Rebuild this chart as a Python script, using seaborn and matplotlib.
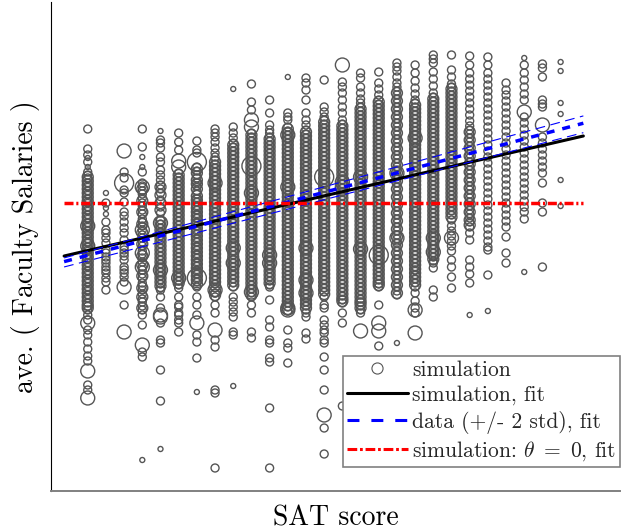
import matplotlib
matplotlib.use("Agg")
import matplotlib.pyplot as plt
import seaborn as sns
import pandas as pd
from matplotlib.lines import Line2D

# SAT score of each column of simulated schools
sat_scores = [820, 840, 860, 880, 900, 920, 940, 960, 980, 1000, 1020, 1040, 1060, 1080,
              1100, 1120, 1140, 1160, 1180, 1200, 1220, 1240, 1260, 1280, 1300, 1320, 1340]

# simulated average faculty salaries (arbitrary units), one list per SAT column,
# split by the weight of the simulated school (circle size)
salary_small = [
    [333, 324], [298, 283, 277], [], [334, 324, 31], [360, 42], [], [99], [], [402, 105],
    [], [], [414], [], [], [], [], [], [148], [], [], [], [176], [180], [], [433, 219], [],
    [429, 420, 388, 377, 311, 285],
]
salary_mid = [
    [362, 342, 336, 329, 319, 316, 313, 308, 305, 300, 297, 292, 289, 284, 281, 276, 273, 268,
     265, 260, 257, 252, 249, 244, 241, 236, 233, 228, 225, 220, 217, 212, 209, 204, 201, 196,
     193, 188, 185, 181, 176, 171, 161, 156, 149, 142, 135, 130, 106, 101],
    [288, 269, 261, 258, 253, 248, 241, 238, 234, 231, 228, 224, 221, 218, 213, 209, 201],
    [319, 313, 301, 298, 289, 279, 275, 269, 263, 258, 251, 244, 241, 238, 235, 231, 224, 221,
     218, 214, 209, 186],
    [362, 344, 319, 308, 305, 300, 297, 293, 288, 285, 281, 277, 272, 269, 265, 261, 256, 253,
     249, 245, 240, 237, 233, 229, 224, 221, 217, 213, 208, 205, 201, 197, 192, 189, 185, 181,
     176, 166, 139, 134],
    [351, 348, 343, 334, 329, 321, 316, 311, 306, 302, 298, 291, 284, 278, 271, 267, 263, 259,
     255, 251, 247, 243, 239, 235, 231, 227, 223, 219, 215, 211, 207, 203, 201, 194, 183, 168,
     151, 148, 121, 90],
    [358, 349, 341, 318, 314, 310, 306, 302, 298, 294, 290, 286, 282, 278, 274, 270, 266, 262,
     258, 254, 250, 246, 242, 238, 234, 230, 226, 222, 218, 214, 210, 206, 203, 194, 186, 184,
     178, 176, 171, 168, 159],
    [350, 341, 338, 324, 320, 316, 313, 308, 305, 300, 297, 292, 289, 284, 281, 276, 273, 268,
     265, 260, 257, 252, 249, 244, 241, 236, 233, 228, 225, 220, 217, 212, 209, 204, 194, 186,
     176, 156, 149, 133],
    [362, 358, 354, 349, 343, 338, 334, 331, 327, 323, 319, 315, 311, 307, 303, 299, 295, 291,
     287, 283, 279, 275, 271, 267, 263, 259, 255, 251, 247, 243, 239, 235, 231, 227, 223, 219,
     215, 211, 207, 203, 198, 194, 186, 178, 151, 144, 101, 98, 23],
    [364, 358, 353, 348, 344, 340, 336, 332, 328, 324, 320, 316, 312, 308, 304, 300, 296, 292,
     288, 284, 280, 276, 272, 268, 264, 260, 256, 252, 248, 244, 240, 236, 232, 228, 224, 220,
     216, 212, 208, 204, 194, 189, 184, 179, 174, 159, 156],
    [407, 389, 381, 358, 354, 350, 346, 342, 338, 334, 330, 326, 322, 318, 314, 310, 306, 302,
     298, 294, 290, 286, 282, 278, 274, 270, 266, 262, 258, 254, 250, 246, 242, 238, 234, 230,
     226, 222, 218, 214, 210, 206, 202, 198, 194, 186, 178, 159, 153],
    [391, 378, 366, 361, 358, 354, 350, 346, 342, 338, 334, 330, 326, 322, 318, 314, 310, 306,
     302, 298, 294, 290, 286, 282, 278, 274, 270, 266, 262, 258, 254, 250, 246, 242, 238, 234,
     230, 226, 222, 218, 214, 210, 206, 204, 191, 171, 164, 151, 148, 133, 129, 83, 23],
    [378, 374, 371, 364, 360, 356, 352, 348, 344, 340, 336, 332, 328, 324, 320, 316, 312, 308,
     304, 300, 296, 292, 288, 284, 280, 276, 272, 268, 264, 260, 256, 252, 248, 244, 240, 236,
     232, 228, 224, 220, 216, 212, 208, 204, 200, 196, 192, 188, 184, 180, 161, 148, 143, 128],
    [413, 408, 401, 391, 378, 371, 366, 361, 357, 353, 349, 345, 341, 337, 333, 329, 325, 321,
     317, 313, 309, 305, 301, 297, 293, 289, 285, 281, 277, 273, 269, 265, 261, 257, 253, 249,
     245, 241, 237, 233, 229, 225, 221, 217, 213, 209, 205, 201, 197, 193, 189, 185, 181, 178,
     174, 158, 152],
    [411, 384, 379, 374, 371, 367, 363, 359, 355, 351, 347, 343, 339, 335, 331, 327, 323, 319,
     315, 311, 307, 303, 299, 295, 291, 287, 283, 279, 275, 271, 267, 263, 259, 255, 251, 247,
     243, 239, 235, 231, 227, 223, 219, 215, 211, 207, 203, 199, 194, 186, 183, 171, 166, 161,
     158, 151, 148, 134, 121, 101, 63, 37],
    [409, 404, 398, 391, 384, 378, 371, 367, 363, 359, 355, 351, 347, 343, 339, 335, 331, 327,
     323, 319, 315, 311, 307, 303, 299, 295, 291, 287, 283, 279, 275, 271, 267, 263, 259, 255,
     251, 247, 243, 239, 235, 231, 227, 223, 219, 215, 211, 207, 203, 199, 195, 191, 188, 178,
     168, 85],
    [418, 413, 404, 398, 392, 388, 384, 380, 376, 372, 368, 364, 360, 356, 352, 348, 344, 340,
     336, 332, 328, 324, 320, 316, 312, 308, 304, 300, 296, 292, 288, 284, 280, 276, 272, 268,
     264, 260, 256, 252, 248, 244, 240, 236, 232, 228, 224, 220, 216, 212, 208, 204, 200, 196,
     192, 189, 185, 181, 178],
    [419, 408, 402, 396, 391, 387, 383, 379, 375, 371, 367, 363, 359, 355, 351, 347, 343, 339,
     335, 331, 327, 323, 319, 315, 311, 307, 303, 299, 295, 291, 287, 283, 279, 275, 271, 267,
     263, 259, 255, 251, 247, 243, 239, 235, 231, 227, 223, 219, 215, 211, 207, 204, 186, 145],
    [428, 424, 420, 414, 408, 404, 400, 396, 392, 388, 384, 380, 376, 372, 368, 364, 360, 356,
     352, 348, 344, 340, 336, 332, 328, 324, 320, 316, 312, 308, 304, 300, 296, 292, 288, 284,
     280, 276, 272, 268, 264, 260, 256, 252, 248, 244, 240, 236, 232, 228, 224, 220, 216, 212,
     208, 204, 200, 196],
    [426, 418, 410, 403, 397, 391, 388, 384, 380, 376, 372, 368, 364, 360, 356, 352, 348, 344,
     340, 336, 332, 328, 324, 320, 316, 312, 308, 304, 300, 296, 292, 288, 284, 280, 276, 272,
     268, 264, 260, 256, 252, 248, 244, 240, 236, 232, 228, 224, 221, 216, 212, 208, 204, 198,
     190, 183, 178],
    [436, 432, 428, 419, 412, 405, 398, 394, 390, 386, 382, 378, 374, 370, 366, 362, 358, 354,
     350, 346, 342, 338, 334, 330, 326, 322, 318, 314, 310, 306, 302, 298, 294, 290, 286, 282,
     278, 274, 270, 266, 262, 258, 254, 250, 246, 242, 238, 234, 230, 228, 223, 201, 194],
    [436, 421, 414, 407, 404, 400, 396, 392, 388, 384, 380, 376, 372, 368, 364, 360, 356, 352,
     348, 344, 340, 336, 332, 328, 324, 320, 316, 312, 308, 304, 300, 296, 292, 288, 284, 280,
     276, 271, 265, 260, 255, 250, 245, 240, 231, 224, 214, 203],
    [435, 426, 418, 412, 406, 400, 394, 388, 382, 376, 370, 365, 361, 357, 353, 349, 345, 341,
     337, 333, 329, 325, 321, 317, 313, 309, 305, 301, 297, 293, 289, 285, 281, 277, 273, 269,
     264, 258, 251, 231, 224, 217, 208],
    [434, 426, 418, 412, 406, 400, 394, 388, 382, 376, 370, 364, 358, 352, 346, 340, 334, 328,
     322, 316, 310, 304, 298, 292, 286, 280, 274, 268, 262, 256, 250, 244, 241, 216],
    [408, 401, 396, 390, 384, 378, 372, 366, 360, 354, 348, 342, 336, 330, 324, 318, 312, 306,
     300, 294, 288, 282, 276, 270, 264, 254, 238, 228],
    [426, 418, 411, 404, 397, 391, 374, 368, 362, 356, 350, 344, 338, 332, 326, 320, 314, 308,
     302, 296, 290, 284, 279, 272],
    [427, 423, 414, 391, 387, 384, 354, 348, 342, 336, 330, 324, 318, 308, 288, 279, 224],
    [],
]
# slightly heavier schools packed in the crowded middle of each column
salary_core = [
    [314, 310, 306, 302, 298, 294, 290, 286, 282, 278, 274, 270, 266, 262, 258, 254, 250, 246,
     242, 238, 234, 230, 226, 222, 218, 214, 210, 206, 202, 198, 194, 190, 186, 183],
    [],
    [],
    [302, 290, 279, 267, 258, 247, 235, 226, 215, 203, 194, 183],
    [304, 296, 288, 281, 269, 265, 261, 257, 253, 249, 245, 241, 237, 233, 229, 225, 221, 217,
     213, 209, 205],
    [316, 312, 308, 304, 300, 296, 292, 288, 284, 280, 276, 272, 268, 264, 260, 256, 252, 248,
     244, 240, 236, 232, 228, 224, 220, 216, 212, 208],
    [322, 318, 311, 307, 302, 295, 291, 287, 283, 279, 275, 271, 267, 263, 259, 255, 251, 247,
     243, 239, 235, 231, 227, 223, 219, 215, 211, 207],
    [329, 325, 321, 317, 313, 309, 305, 301, 297, 293, 289, 285, 281, 277, 273, 269, 265, 261,
     257, 253, 249, 245, 241, 237, 233, 229, 225, 221, 217, 213, 209, 205, 200, 196],
    [346, 342, 338, 334, 330, 326, 322, 318, 314, 310, 306, 302, 298, 294, 290, 286, 282, 278,
     274, 270, 266, 262, 258, 254, 250, 246, 242, 238, 234, 230, 226, 222, 218, 214, 210, 206],
    [356, 352, 348, 344, 340, 336, 332, 328, 324, 320, 316, 312, 308, 304, 300, 296, 292, 288,
     284, 280, 276, 272, 268, 264, 260, 256, 252, 248, 244, 240, 236, 232, 228, 224, 220, 216,
     212, 208, 204, 200, 196],
    [352, 348, 344, 340, 336, 332, 328, 324, 320, 316, 312, 308, 304, 300, 296, 292, 288, 284,
     280, 276, 272, 268, 264, 260, 256, 252, 248, 244, 240, 236, 232, 228, 224, 220, 216, 212,
     208],
    [362, 358, 354, 350, 346, 342, 338, 334, 330, 326, 322, 318, 314, 310, 306, 302, 298, 294,
     290, 286, 282, 278, 274, 270, 266, 262, 258, 254, 250, 246, 242, 238, 234, 230, 226, 222,
     218, 214, 210, 206, 202, 198, 194, 190, 186, 182],
    [359, 355, 351, 347, 343, 339, 335, 331, 327, 323, 319, 315, 311, 307, 303, 299, 295, 291,
     287, 283, 279, 275, 271, 267, 263, 259, 255, 251, 247, 243, 239, 235, 231, 227, 223, 219,
     215, 211, 207, 203, 199, 195, 191, 187, 183],
    [369, 365, 361, 357, 353, 349, 345, 341, 337, 333, 329, 325, 321, 317, 313, 309, 305, 301,
     297, 293, 289, 285, 281, 277, 273, 269, 265, 261, 257, 253, 249, 245, 241, 237, 233, 229,
     225, 221, 217, 213, 209, 205, 201, 197],
    [365, 361, 357, 353, 349, 345, 341, 337, 333, 329, 325, 321, 317, 313, 309, 305, 301, 297,
     293, 289, 285, 281, 277, 273, 269, 265, 261, 257, 253, 249, 245, 241, 237, 233, 229, 225,
     221, 217, 213, 209, 205, 201, 197, 193, 190],
    [382, 378, 374, 370, 366, 362, 358, 354, 350, 346, 342, 338, 334, 330, 326, 322, 318, 314,
     310, 306, 302, 298, 294, 290, 286, 282, 278, 274, 270, 266, 262, 258, 254, 250, 246, 242,
     238, 234, 230, 226, 222, 218, 214, 210, 206, 202, 198, 194, 190, 187, 183],
    [389, 385, 381, 377, 373, 369, 365, 361, 357, 353, 349, 345, 341, 337, 333, 329, 325, 321,
     317, 313, 309, 305, 301, 297, 293, 289, 285, 281, 277, 273, 269, 265, 261, 257, 253, 249,
     245, 241, 237, 233, 229, 225, 221, 217, 213, 209, 206],
    [398, 390, 382, 374, 366, 358, 350, 342, 334, 326, 318, 310, 302, 294, 286, 278, 270, 262,
     254, 246, 238, 230, 222, 214, 206, 198],
    [386, 382, 378, 374, 370, 366, 362, 358, 354, 350, 346, 342, 338, 334, 330, 326, 322, 318,
     314, 310, 306, 302, 298, 294, 290, 286, 282, 278, 274, 270, 266, 262, 258, 254, 250, 246,
     242, 238, 234, 230, 226, 222, 218, 214, 210, 206],
    [392, 388, 384, 380, 376, 372, 368, 364, 360, 356, 352, 348, 344, 340, 336, 332, 328, 324,
     320, 316, 312, 308, 304, 300, 296, 292, 288, 284, 280, 276, 272, 268, 264, 260, 256, 252,
     248, 244, 240, 236, 232],
    [402, 398, 394, 390, 386, 382, 378, 374, 370, 366, 362, 358, 354, 350, 346, 342, 338, 334,
     330, 326, 322, 318, 314, 310, 306, 302, 298, 294, 290, 286, 282, 278, 274],
    [359, 351, 343, 335, 327, 319, 311, 303, 295, 287, 279, 271, 266],
    [], [], [], [], [],
]
salary_big = [
    [265, 245, 168, 120, 93], [], [340, 204, 159], [304, 261, 238, 224, 146], [268, 221, 176, 174],
    [330, 324, 213], [168], [308, 201, 161], [243, 228], [371, 364, 298, 199], [236, 228],
    [356, 304, 183, 181], [243, 211, 198], [76], [426, 309, 304], [314, 242, 160], [168, 160],
    [318, 253], [353, 181, 158], [253, 239], [253], [], [], [], [379], [366], [],
]
salary_huge = [
    [], [], [308], [], [], [], [329, 213], [], [], [325], [], [], [], [314], [], [], [236],
    [], [], [], [], [], [], [], [], [], [],
]

# fitted lines: (value at SAT = 1080, slope per SAT point)
fit_sat_range = [794, 1365]
fit_center = 1080
sim_fit = (295.1, 0.2102)
data_fit = (298.7, 0.2424)
data_fit_hi = (304.2, 0.2487)
data_fit_lo = (291.3, 0.2352)
theta0_fit = (288.0, 0.0)

sns.set_theme(style="white")
plt.rcParams["font.family"] = ["cmr10", "DejaVu Serif"]
plt.rcParams["mathtext.fontset"] = "cm"
plt.rcParams["axes.unicode_minus"] = False
plt.rcParams["axes.formatter.use_mathtext"] = True
plt.rcParams["lines.scale_dashes"] = False

rows = []
for w, table in [(5, salary_huge), (4, salary_big), (3, salary_core),
                 (2, salary_mid), (1, salary_small)]:
    for sat, ys in zip(sat_scores, table):
        for y in ys:
            rows.append((sat, y, w))
df = pd.DataFrame(rows, columns=["sat", "salary", "weight"])

fig = plt.figure(figsize=(6.21, 5.31), dpi=100)
ax = fig.add_axes([51 / 621, 40 / 531, 569 / 621, 489 / 531])

gray = "#555555"
sns.scatterplot(data=df, x="sat", y="salary", size="weight",
                sizes={1: 13, 2: 33, 3: 62, 4: 101, 5: 187},
                facecolor="none", edgecolor=gray, linewidth=1.0, legend=False, ax=ax)
ax.collections[0].set_facecolor("none")
ax.collections[0].set_edgecolor(gray)


def fit_line(coef):
    a, b = coef
    return pd.DataFrame({"sat": fit_sat_range,
                         "salary": [a + b * (s - fit_center) for s in fit_sat_range]})


def draw_fit(coef, **kw):
    d = fit_line(coef)
    sns.lineplot(data=d, x="sat", y="salary", errorbar=None, ax=ax, **kw)


draw_fit(sim_fit, color="black", lw=2.2, zorder=3)
draw_fit(data_fit_hi, color="blue", lw=0.8, linestyle=(0, (7, 4)), zorder=4)
draw_fit(data_fit_lo, color="blue", lw=0.8, linestyle=(0, (7, 4)), zorder=4)
draw_fit(data_fit, color="blue", lw=2.5, linestyle=(0, (5.8, 5.8)), zorder=4)
draw_fit(theta0_fit, color="red", lw=2.5, linestyle=(0, (6.5, 2, 1.5, 2)), zorder=5)

ax.set_xlim(779.6, 1405.3)
ax.set_ylim(0, 489)
ax.set_xticks([])
ax.set_yticks([])
sns.despine(ax=ax)
ax.spines["left"].set_color("black")
ax.spines["left"].set_linewidth(0.8)
ax.spines["bottom"].set_color("#808080")
ax.spines["bottom"].set_linewidth(1.4)

ax.set_xlabel("SAT score", fontsize=20, labelpad=10, color="black")
ax.set_ylabel("ave. ( Faculty Salaries )", fontsize=20, labelpad=8, color="black")

handles = [
    Line2D([], [], ls="none", marker="o", ms=8, mfc="none", mec=gray, mew=0.8),
    Line2D([], [], color="black", lw=2.2),
    Line2D([], [], color="blue", lw=2.2, ls=(0, (8.6, 8.6))),
    Line2D([], [], color="red", lw=2.2, ls=(0, (7, 2, 2, 2))),
]
labels = ["simulation", "simulation, fit", "data (+/- 2 std), fit",
          r"simulation: $\theta\ =\ 0$, fit"]
leg = ax.legend(handles, labels, loc="lower right", bbox_to_anchor=(1.0, 0.049),
                fontsize=15.5, frameon=True, fancybox=False, edgecolor="#808080",
                framealpha=1, handlelength=2.8, handletextpad=0.2, borderpad=0.2,
                labelspacing=0.25, borderaxespad=0)
leg.get_frame().set_linewidth(1.2)

fig.savefig("out.png", dpi=100)
